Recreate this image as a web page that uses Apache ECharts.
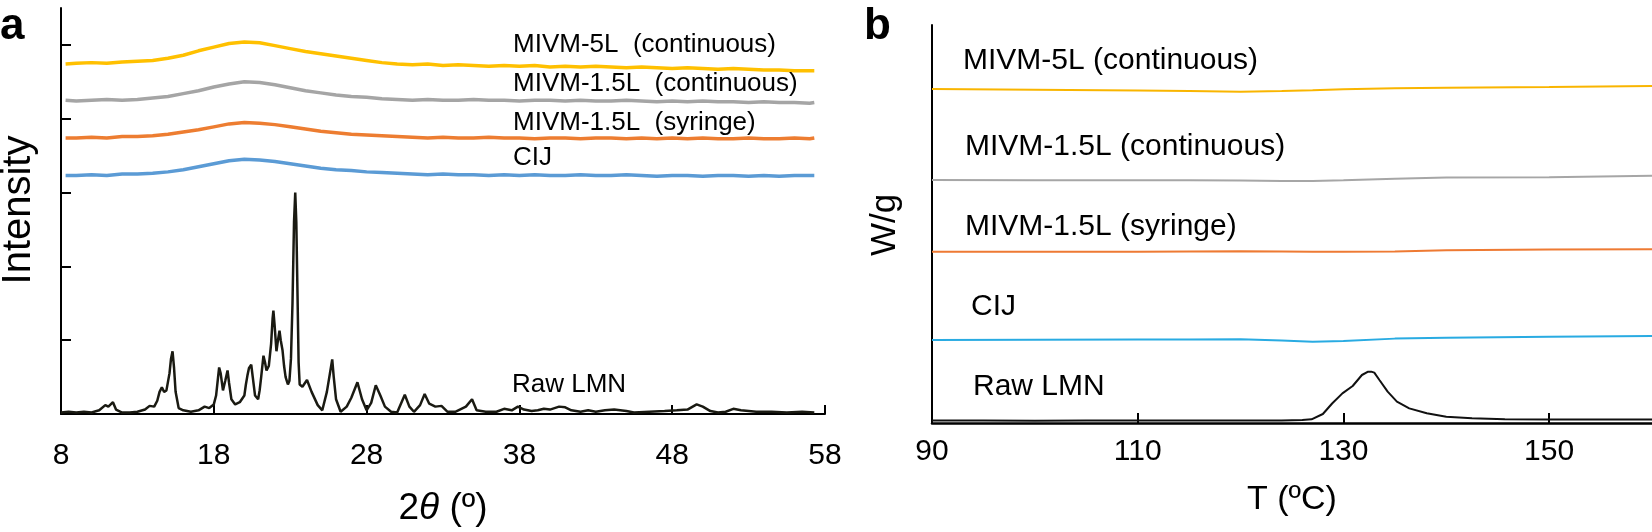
<!DOCTYPE html>
<html>
<head>
<meta charset="utf-8">
<script src="https://cdn.jsdelivr.net/npm/echarts@6/dist/echarts.min.js"></script>
<style>
html,body{margin:0;padding:0;background:#fff;}
#chart{width:1652px;height:532px;}
</style>
</head>
<body>
<div id="chart"></div>
<script>
// ---------- Panel a: XRD ----------
const aX = [8.3,9,10,11,12,13,14,15,16,17,18,19,20,21,22,23,24,25,26,27,28,29,30,31,32,33,34,35,36,37,38,39,40,41,42,43,44,45,46,47,48,49,50,51,52,53,54,55,56,57,57.3];
const aMIVM5L = [4.74,4.75,4.76,4.75,4.77,4.78,4.79,4.82,4.86,4.92,4.97,5.02,5.04,5.03,4.99,4.95,4.91,4.88,4.85,4.82,4.79,4.76,4.74,4.73,4.74,4.72,4.73,4.72,4.71,4.72,4.71,4.72,4.70,4.71,4.70,4.71,4.70,4.69,4.70,4.69,4.68,4.69,4.68,4.67,4.68,4.67,4.66,4.66,4.65,4.65,4.65];
const aMIVM15Lc = [4.25,4.24,4.25,4.26,4.25,4.26,4.28,4.30,4.34,4.38,4.43,4.47,4.50,4.49,4.46,4.42,4.38,4.35,4.32,4.30,4.29,4.27,4.26,4.25,4.26,4.25,4.25,4.26,4.25,4.25,4.24,4.25,4.25,4.24,4.25,4.24,4.24,4.25,4.24,4.23,4.24,4.23,4.24,4.23,4.23,4.22,4.23,4.22,4.22,4.21,4.22];
const aMIVM15Ls = [3.74,3.74,3.75,3.74,3.76,3.76,3.77,3.79,3.82,3.85,3.89,3.93,3.95,3.94,3.92,3.89,3.86,3.83,3.81,3.79,3.78,3.77,3.76,3.75,3.74,3.75,3.74,3.74,3.75,3.74,3.74,3.73,3.74,3.74,3.73,3.74,3.74,3.73,3.74,3.73,3.74,3.73,3.74,3.73,3.73,3.74,3.73,3.73,3.74,3.73,3.74];
const aCIJ = [3.23,3.23,3.24,3.23,3.25,3.25,3.26,3.28,3.31,3.35,3.39,3.43,3.45,3.44,3.42,3.39,3.36,3.33,3.31,3.30,3.28,3.27,3.26,3.25,3.24,3.25,3.24,3.24,3.23,3.24,3.23,3.24,3.23,3.23,3.24,3.23,3.23,3.24,3.23,3.22,3.23,3.23,3.22,3.23,3.23,3.22,3.23,3.22,3.23,3.23,3.23];
const aRawX = [8.0,8.5,9.0,9.5,10.0,10.5,10.9,11.1,11.4,11.6,12.0,12.5,13.0,13.5,13.8,14.1,14.3,14.45,14.6,14.75,14.9,15.1,15.2,15.3,15.4,15.5,15.7,16.0,16.5,17.0,17.4,17.7,18.0,18.15,18.28,18.35,18.45,18.6,18.75,18.9,19.0,19.15,19.4,19.7,20.0,20.1,20.2,20.3,20.45,20.55,20.7,20.9,21.0,21.1,21.25,21.35,21.45,21.6,21.75,21.85,21.9,21.98,22.1,22.2,22.3,22.38,22.5,22.6,22.7,22.85,22.95,23.05,23.15,23.25,23.33,23.4,23.48,23.55,23.62,23.8,24.1,24.4,24.8,25.1,25.4,25.6,25.75,25.85,26.0,26.3,26.7,27.0,27.4,27.7,28.0,28.3,28.6,28.9,29.2,29.6,30.0,30.5,30.8,31.1,31.5,31.8,32.1,32.5,32.9,33.3,33.8,34.5,34.9,35.2,35.8,36.5,37.0,37.5,37.9,38.3,38.8,39.2,39.6,40.0,40.6,41.0,41.4,42.0,42.5,43.0,43.6,44.2,45.0,45.5,46.5,47.5,48.3,49.0,49.6,50.0,50.5,51.0,51.5,52.0,52.5,53.0,53.5,54.5,55.5,56.5,57.3];
const aRawY = [0.02,0.03,0.02,0.03,0.02,0.05,0.12,0.10,0.16,0.06,0.02,0.02,0.03,0.06,0.11,0.10,0.18,0.30,0.36,0.30,0.32,0.55,0.75,0.85,0.62,0.30,0.08,0.05,0.03,0.05,0.10,0.08,0.13,0.25,0.50,0.63,0.55,0.32,0.45,0.59,0.42,0.20,0.13,0.16,0.25,0.40,0.52,0.62,0.67,0.50,0.25,0.20,0.32,0.50,0.79,0.70,0.59,0.65,0.95,1.30,1.40,1.20,0.85,1.00,1.13,1.00,0.86,0.65,0.50,0.40,0.45,0.75,1.5,2.6,3.0,2.6,1.6,0.70,0.40,0.37,0.46,0.30,0.12,0.05,0.30,0.55,0.74,0.50,0.20,0.03,0.10,0.22,0.43,0.20,0.05,0.15,0.39,0.25,0.10,0.03,0.02,0.26,0.10,0.03,0.12,0.27,0.14,0.10,0.11,0.03,0.03,0.10,0.20,0.05,0.03,0.03,0.07,0.05,0.10,0.06,0.04,0.05,0.07,0.06,0.10,0.09,0.05,0.03,0.05,0.03,0.05,0.06,0.04,0.02,0.03,0.04,0.05,0.06,0.13,0.10,0.04,0.02,0.03,0.07,0.05,0.04,0.03,0.03,0.02,0.03,0.02];
const aTickLabels = [8,18,28,38,48,58];
const aYTicks = [1,2,3,4,5];

// ---------- Panel b: DSC ----------
const bT = [90,100,110,115,120,124,127,130,135,140,150,160];
const bMIVM5L = [83.9,83.75,83.55,83.4,83.25,83.4,83.6,83.85,84.1,84.25,84.4,84.7];
const bMIVM15Lc = [61.05,61.0,61.0,61.0,60.95,60.8,60.8,61.0,61.4,61.7,61.75,62.1];
const bMIVM15Ls = [43.05,43.05,43.05,43.1,43.15,43.1,43.05,43.05,43.1,43.4,43.6,43.65];
const bCIJ = [20.85,20.9,21.0,21.0,21.05,20.7,20.4,20.6,21.2,21.4,21.7,21.85];
const bRawT = [90,95,100,105,110,115,120,124,126,126.9,128.0,128.9,129.9,130.9,131.8,132.4,132.7,133.0,133.5,134.3,135.2,136.4,138.1,140,142.5,145.7,150,155,160];
const bRawV = [0.6,0.6,0.55,0.6,0.6,0.6,0.6,0.65,0.75,0.92,2.26,4.9,7.45,9.3,12.06,12.9,12.9,12.65,10.8,7.87,5.36,3.68,2.43,1.59,1.17,0.92,0.9,0.85,0.85];
const bTickLabels = [90,110,130,150];
const bTicks = [110,130,150];

const seriesNames = ['MIVM-5L  (continuous)','MIVM-1.5L  (continuous)','MIVM-1.5L  (syringe)','CIJ','Raw LMN'];
const seriesNamesB = ['MIVM-5L (continuous)','MIVM-1.5L (continuous)','MIVM-1.5L (syringe)','CIJ','Raw LMN'];

const FONT = '"Liberation Sans", Arial, Helvetica, sans-serif';
const pair = (xs, ys) => xs.map((x, i) => [x, ys[i]]);

const chart = echarts.init(document.getElementById('chart'), null, {renderer: 'canvas'});

const axisLineStyle = {color: '#000', width: 2};

function lineSeries(name, xi, yi, data, color, width) {
  return {
    name, type: 'line', xAxisIndex: xi, yAxisIndex: yi, data,
    showSymbol: false, symbol: 'none', animation: false,
    lineStyle: {color, width}, itemStyle: {color}, z: 3
  };
}

function label(text, x, y, size, weight) {
  return {
    type: 'text', x, y, z: 10,
    style: {text, fill: '#000', font: (weight || 'normal') + ' ' + size + 'px ' + FONT, textAlign: 'left', textVerticalAlign: 'middle'}
  };
}

const option = {
  backgroundColor: '#fff',
  animation: false,
  textStyle: {fontFamily: FONT},
  grid: [
    {left: 61, top: 8, width: 764, height: 409},
    {left: 932, top: 25, width: 720, height: 398}
  ],
  xAxis: [
    {
      type: 'value', gridIndex: 0, min: 8, max: 58,
      splitLine: {show: false},
      axisLine: {show: true, lineStyle: axisLineStyle},
      axisTick: {show: true, inside: true, length: 9, lineStyle: {color: '#000', width: 2}, customValues: aTickLabels},
      axisLabel: {show: true, customValues: aTickLabels, color: '#000', fontSize: 30, fontFamily: FONT, margin: 27},
      name: '{n|2}{t|θ}{n| (º)}', nameLocation: 'middle', nameGap: 76,
      nameTextStyle: {rich: {n: {fontSize: 37, fontFamily: FONT, color: '#000'}, t: {fontSize: 37, fontFamily: FONT, fontStyle: 'italic', color: '#000'}}}
    },
    {
      type: 'value', gridIndex: 1, min: 90, max: 160,
      splitLine: {show: false},
      axisLine: {show: true, lineStyle: {color: '#000', width: 2.5}},
      axisTick: {show: true, inside: true, length: 10, lineStyle: {color: '#000', width: 2}, customValues: bTicks},
      axisLabel: {show: true, customValues: bTickLabels, color: '#000', fontSize: 30, fontFamily: FONT, margin: 14},
      name: 'T (ºC)', nameLocation: 'middle', nameGap: 60,
      nameTextStyle: {fontSize: 34, fontFamily: FONT, color: '#000'}
    }
  ],
  yAxis: [
    {
      type: 'value', gridIndex: 0, min: 0, max: 5.5,
      splitLine: {show: false},
      axisLine: {show: true, lineStyle: axisLineStyle},
      axisTick: {show: true, inside: true, length: 10, lineStyle: {color: '#000', width: 2}, customValues: aYTicks},
      axisLabel: {show: false}
    },
    {
      type: 'value', gridIndex: 1, min: 0, max: 100,
      splitLine: {show: false},
      axisLine: {show: true, lineStyle: axisLineStyle},
      axisTick: {show: false},
      axisLabel: {show: false}
    }
  ],
  series: [
    lineSeries(seriesNames[0], 0, 0, pair(aX, aMIVM5L), '#FFC000', 3.5),
    lineSeries(seriesNames[1], 0, 0, pair(aX, aMIVM15Lc), '#A5A5A5', 3.5),
    lineSeries(seriesNames[2], 0, 0, pair(aX, aMIVM15Ls), '#ED7D31', 3.5),
    lineSeries(seriesNames[3], 0, 0, pair(aX, aCIJ), '#5B9BD5', 3.5),
    lineSeries(seriesNames[4], 0, 0, pair(aRawX, aRawY), '#1a1a12', 2.5),
    lineSeries(seriesNamesB[0], 1, 1, pair(bT, bMIVM5L), '#F9B500', 2),
    lineSeries(seriesNamesB[1], 1, 1, pair(bT, bMIVM15Lc), '#A6A6A6', 2),
    lineSeries(seriesNamesB[2], 1, 1, pair(bT, bMIVM15Ls), '#EE7A33', 2),
    lineSeries(seriesNamesB[3], 1, 1, pair(bT, bCIJ), '#29ABE2', 2),
    lineSeries(seriesNamesB[4], 1, 1, pair(bRawT, bRawV), '#111', 2)
  ],
  graphic: [
    label('a', 0, 27, 44, 'bold'),
    label('b', 864, 27, 44, 'bold'),
    {type: 'text', x: 19, y: 210, rotation: Math.PI / 2, z: 10,
     style: {text: 'Intensity', fill: '#000', font: '40px ' + FONT, textAlign: 'center', textVerticalAlign: 'middle'}},
    {type: 'text', x: 885, y: 225, rotation: Math.PI / 2, z: 10,
     style: {text: 'W/g', fill: '#000', font: '35px ' + FONT, textAlign: 'center', textVerticalAlign: 'middle'}},
    label(seriesNames[0], 513, 45, 26),
    label(seriesNames[1], 513, 84, 26),
    label(seriesNames[2], 513, 123, 26),
    label(seriesNames[3], 513, 158, 26),
    label(seriesNames[4], 512, 385, 26),
    label(seriesNamesB[0], 963, 61, 30),
    label(seriesNamesB[1], 965, 147, 30),
    label(seriesNamesB[2], 965, 227, 30),
    label(seriesNamesB[3], 971, 307, 30),
    label(seriesNamesB[4], 973, 387, 30)
  ]
};
chart.setOption(option);
</script>
</body>
</html>
